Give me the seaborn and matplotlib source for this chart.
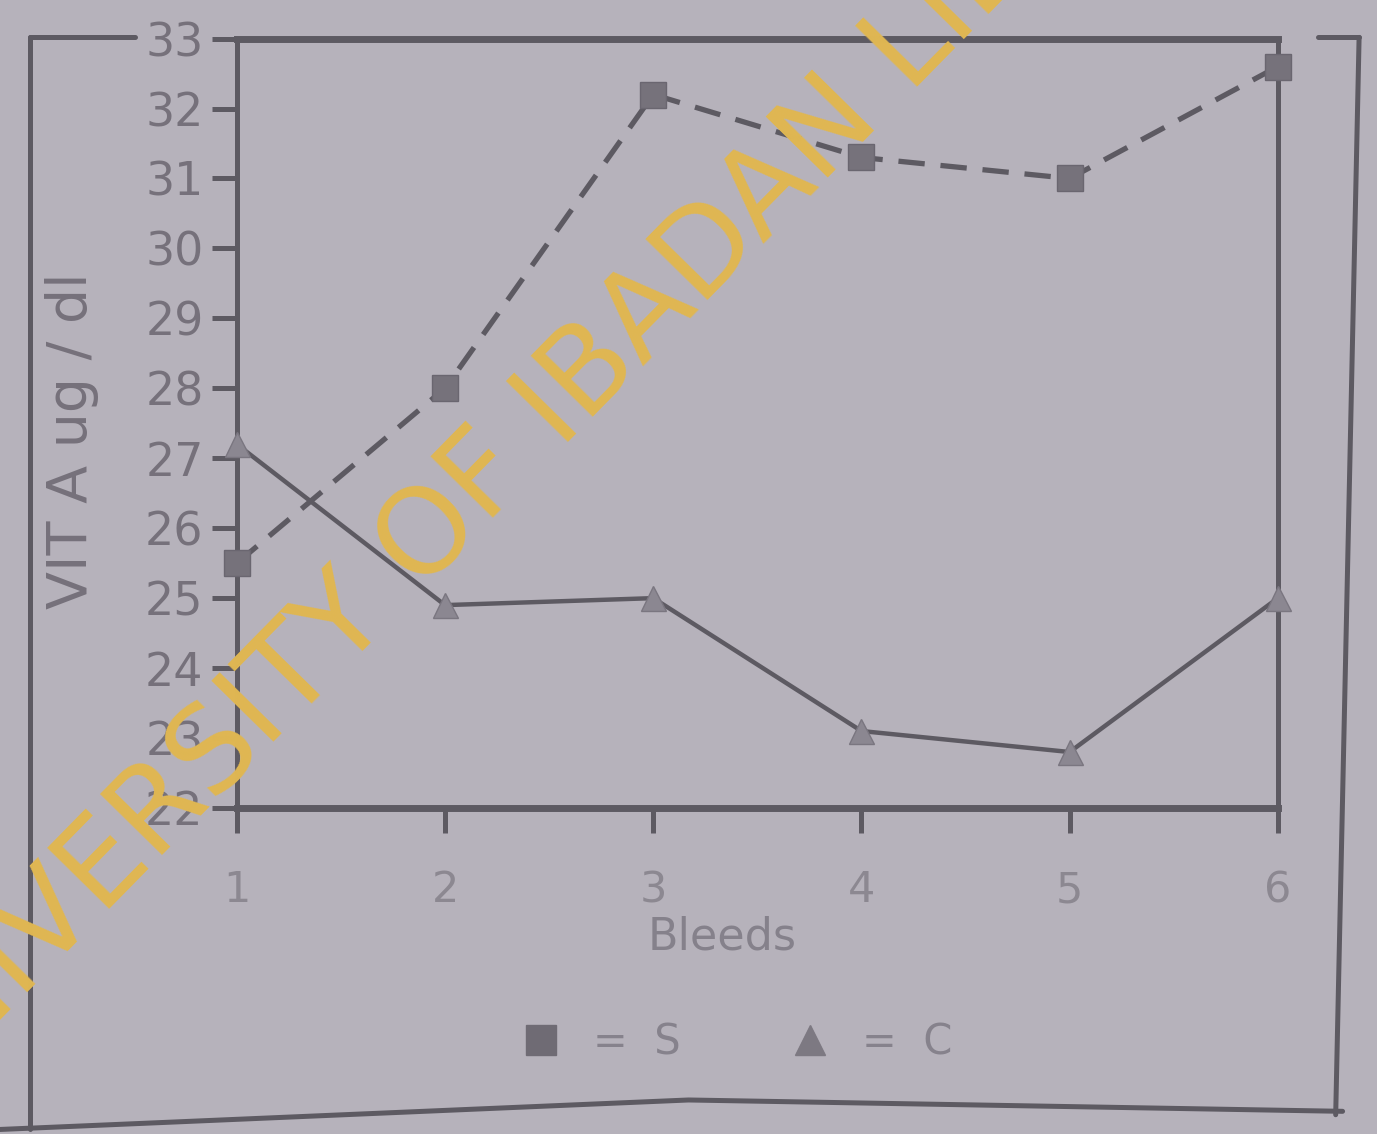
import matplotlib
matplotlib.use("Agg")
import matplotlib.pyplot as plt
from matplotlib.lines import Line2D
import seaborn as sns
import pandas as pd

# data
bleeds = [1, 2, 3, 4, 5, 6]
vit_a_s = [25.5, 28.0, 32.2, 31.3, 31.0, 32.6]
vit_a_c = [27.2, 24.9, 25.0, 23.1, 22.8, 25.0]
y_ticks = list(range(22, 34))

df_s = pd.DataFrame({'Bleeds': bleeds, 'VIT A': vit_a_s})
df_c = pd.DataFrame({'Bleeds': bleeds, 'VIT A': vit_a_c})

fondo = '#b6b2bb'
tinta = '#5d5a62'
gris = '#76717b'

sns.set_style("ticks")
plt.rcParams['font.family'] = ['DejaVu Sans']

fig = plt.figure(figsize=(13.77, 11.34), dpi=100, facecolor=fondo)
ax = fig.add_axes([0.172, 0.2875, 0.756, 0.6785], facecolor=fondo)

sns.lineplot(data=df_s, x='Bleeds', y='VIT A', ax=ax, color=tinta,
             linewidth=3.8, linestyle=(0, (5, 3)), marker='s', markersize=19,
             markerfacecolor='#76727b', markeredgecolor='#6a6670',
             markeredgewidth=1, clip_on=False, zorder=3)
sns.lineplot(data=df_c, x='Bleeds', y='VIT A', ax=ax, color=tinta,
             linewidth=3.2, marker='^', markersize=18,
             markerfacecolor='#8b8791', markeredgecolor='#7a7680',
             markeredgewidth=1, clip_on=False, zorder=3)

ax.set_xlim(1, 6)
ax.set_ylim(22, 33)
ax.set_xticks(bleeds)
ax.set_yticks(y_ticks)

for lado in ['top', 'bottom']:
    ax.spines[lado].set_linewidth(5)
    ax.spines[lado].set_color(tinta)
for lado in ['left', 'right']:
    ax.spines[lado].set_linewidth(3.6)
    ax.spines[lado].set_color(tinta)

ax.tick_params(axis='y', direction='out', length=18, width=3.6, color=tinta,
               labelsize=33, labelcolor=gris, pad=6)
ax.tick_params(axis='x', direction='out', length=18, width=3.6, color=tinta,
               labelsize=31, labelcolor='#8c8891', pad=26)

ax.set_xlabel('Bleeds', fontsize=32, color='#85818b')
ax.xaxis.set_label_coords(0.466, -0.14)
ax.set_ylabel('VIT A ug / dl', fontsize=40, color=gris)
ax.yaxis.set_label_coords(-0.132, 0.478)

# marco exterior de la figura escaneada
for xs, ys in [([0.022, 0.022], [0.004, 0.967]),
               ([0.022, 0.098], [0.967, 0.967]),
               ([0.957, 0.987], [0.967, 0.967]),
               ([0.987, 0.970], [0.967, 0.017]),
               ([0.0, 0.5, 0.975], [0.004, 0.030, 0.020])]:
    fig.add_artist(Line2D(xs, ys, transform=fig.transFigure, color=tinta, lw=3.6))

handles = [Line2D([], [], marker='s', linestyle='', markersize=21,
                  markerfacecolor='#6f6b74', markeredgecolor='#6f6b74'),
           Line2D([], [], marker='^', linestyle='', markersize=21,
                  markerfacecolor='#7d7982', markeredgecolor='#7d7982')]
leg = fig.legend(handles, ['=  S', '=  C'], loc='center', bbox_to_anchor=(0.535, 0.081),
                 ncol=2, frameon=False, fontsize=30, handlelength=1.0,
                 handletextpad=0.75, columnspacing=2.6)
for t in leg.get_texts():
    t.set_color('#86828c')

# marca de agua del escaneo
fig.text(0.418, 0.616, 'UNIVERSITY OF IBADAN LIBRARY', rotation=45.5,
         rotation_mode='anchor', ha='center', va='baseline', fontsize=86,
         color='#e0b752', zorder=10)

fig.savefig('out.png', dpi=100, facecolor=fondo)
